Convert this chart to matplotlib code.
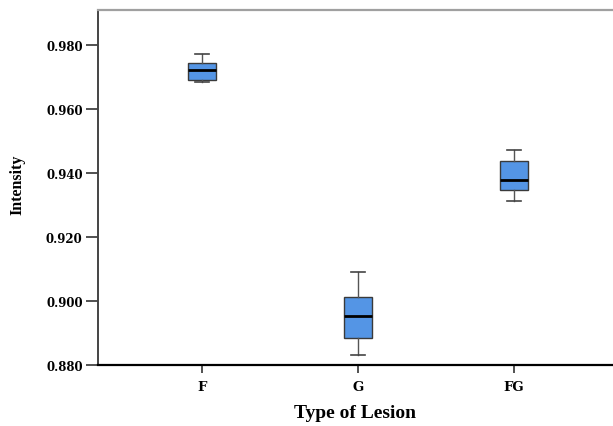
import matplotlib
matplotlib.use("Agg")
import matplotlib.pyplot as plt

# values
lesions = ["F", "G", "FG"]
whis_lo = [0.9682, 0.8832, 0.9313]
q1 = [0.9688, 0.8883, 0.9347]
medians = [0.9722, 0.8952, 0.9377]
q3 = [0.9744, 0.9011, 0.9437]
whis_hi = [0.9772, 0.9091, 0.9471]
yticks = [0.880, 0.900, 0.920, 0.940, 0.960, 0.980]

plt.rcParams['font.family'] = ['Liberation Serif', 'DejaVu Serif']
tick_font = dict(family=['DejaVu Serif'], size=8.5, weight="bold")
xtick_font = dict(family=['DejaVu Serif'], size=9.5, weight="bold")

fig = plt.figure(figsize=(6.13, 4.27), dpi=100)
ax = fig.add_axes([98 / 613, 1 - 366 / 427, 1 - 98 / 613, (366 - 11) / 427])

stats = []
for i in range(len(lesions)):
    stats.append({"label": lesions[i], "whislo": whis_lo[i], "q1": q1[i],
                  "med": medians[i], "q3": q3[i], "whishi": whis_hi[i], "fliers": []})

ax.bxp(stats, positions=[1, 2, 3], widths=0.175, patch_artist=True, showfliers=False,
       boxprops=dict(facecolor="#5495e5", edgecolor="#3a3a3a", linewidth=1.0),
       medianprops=dict(color="black", linewidth=2.0),
       whiskerprops=dict(color="#555555", linewidth=1.0),
       capprops=dict(color="#444444", linewidth=1.2),
       capwidths=0.085)

ax.set_xlim(0.333, 3.635)
ax.set_ylim(0.880, 0.9908)
ax.set_yticks(yticks)
ax.set_yticklabels(["%.3f" % v for v in yticks], fontdict=tick_font)
ax.set_xticks([1, 2, 3])
ax.set_xticklabels(lesions, fontdict=xtick_font)
ax.tick_params(axis="y", direction="out", length=9, width=1.2, color="#333333", pad=2)
ax.tick_params(axis="x", direction="out", length=6, width=1.2, color="#333333", pad=5)

ax.spines["right"].set_visible(False)
ax.spines["top"].set_color("#a0a0a0")
ax.spines["top"].set_linewidth(1.6)
ax.spines["left"].set_color("#444444")
ax.spines["left"].set_linewidth(1.4)
ax.spines["bottom"].set_color("black")
ax.spines["bottom"].set_linewidth(1.6)

ax.set_xlabel("Type of Lesion", fontsize=14, fontweight="bold", labelpad=8)
ax.set_ylabel("Intensity", fontsize=11.5, fontweight="bold")
ax.yaxis.set_label_coords(-0.14, 0.51)

fig.savefig("out.png", dpi=100)
